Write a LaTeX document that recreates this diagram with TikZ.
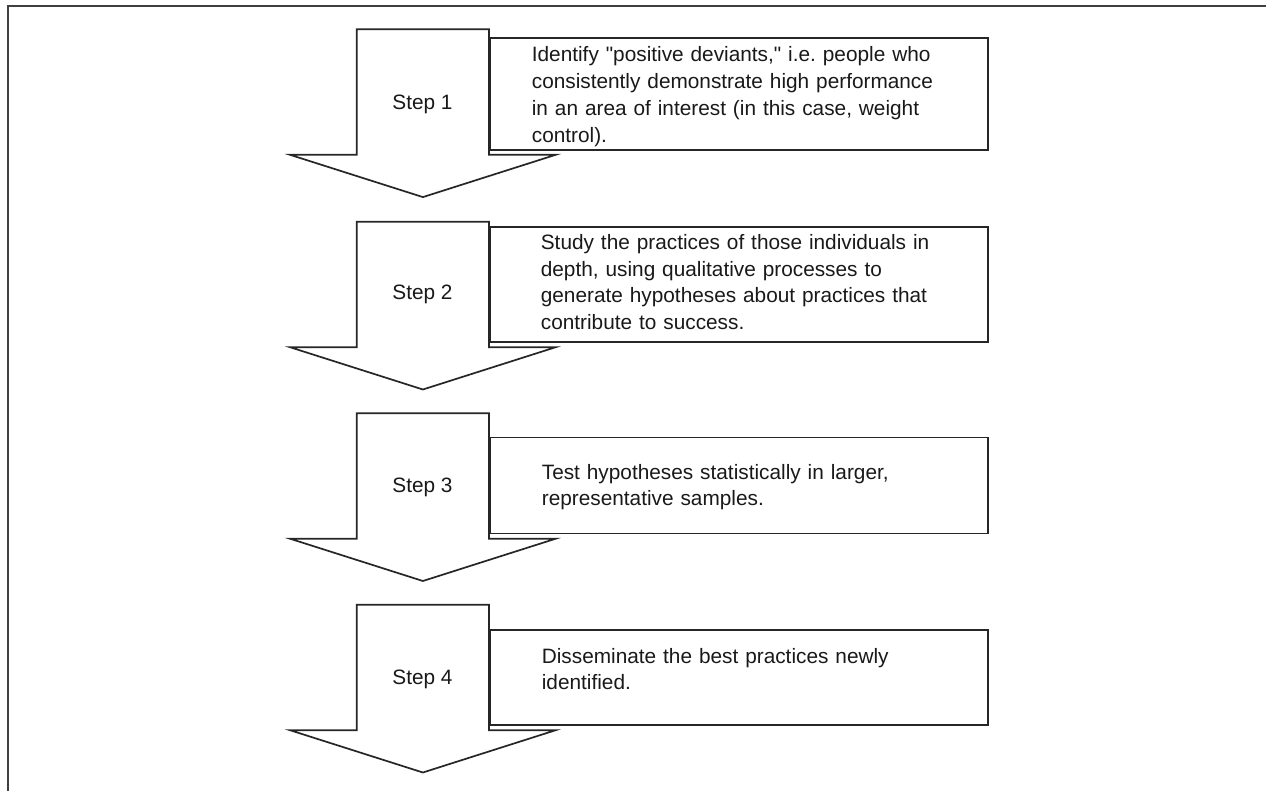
\documentclass[tikz,border=0pt]{standalone}
\usepackage{fontspec}
\setmainfont{Liberation Sans}
\frenchspacing
\begin{document}
\begin{tikzpicture}[x=1pt,y=-1pt,line width=1.7pt,
  txt/.style={anchor=base west,inner sep=0pt,align=left,text width=440pt,
    font=\fontsize{20.8}{26.8}\selectfont,text=black!90},
  steplbl/.style={anchor=base,inner sep=0pt,font=\fontsize{20.8}{26.8}\selectfont,text=black!90},
  stepbox/.style={draw=black!85,inner sep=0pt,anchor=north west,minimum width=498pt},
  arrowshape/.style={draw=black!85,fill=white,line join=miter}]
\useasboundingbox (0,0) rectangle (1266,791);
\draw[draw=black!75] (8,791) -- (8,6) -- (1266,6);
% step 1
\node[stepbox,minimum height=111.7pt] (b1) at (489,37.3) {};
\draw[arrowshape] (356.7,29.3) -- (489,29.3) -- (489,154.8) -- (555.7,154.8) -- (422.9,197.1) -- (290,154.8) -- (356.7,154.8) -- cycle;
\node[steplbl] (s1) at (422.5,109.7) {Step 1};
\node[txt] (t1) at (531,61.7) {Identify \textquotedbl positive deviants,\textquotedbl\ i.e. people who\\consistently demonstrate high performance\\in an area of interest (in this case, weight\\control).};
% step 2
\node[stepbox,minimum height=114.7pt] (b2) at (489,226.3) {};
\draw[arrowshape] (356.7,221.7) -- (489,221.7) -- (489,347.2) -- (555.7,347.2) -- (422.9,389.5) -- (290,347.2) -- (356.7,347.2) -- cycle;
\node[steplbl] (s2) at (422.5,300) {Step 2};
\node[txt] (t2) at (540,249.3) {Study the practices of those individuals in\\depth, using qualitative processes to\\generate hypotheses about practices that\\contribute to success.};
% step 3
\node[stepbox,minimum height=96pt] (b3) at (489,436.7) {};
\draw[arrowshape] (356.7,413.2) -- (489,413.2) -- (489,538.7) -- (555.7,538.7) -- (422.9,581) -- (290,538.7) -- (356.7,538.7) -- cycle;
\node[steplbl] (s3) at (422.5,492.7) {Step 3};
\node[txt] (t3) at (541,479) {Test hypotheses statistically in larger,\\representative samples.};
% step 4
\node[stepbox,minimum height=95.3pt] (b4) at (489,629) {};
\draw[arrowshape] (356.7,604.7) -- (489,604.7) -- (489,730.2) -- (555.7,730.2) -- (422.9,772.5) -- (290,730.2) -- (356.7,730.2) -- cycle;
\node[steplbl] (s4) at (422.5,684) {Step 4};
\node[txt] (t4) at (541,663) {Disseminate the best practices newly\\identified.};
\end{tikzpicture}
\end{document}
